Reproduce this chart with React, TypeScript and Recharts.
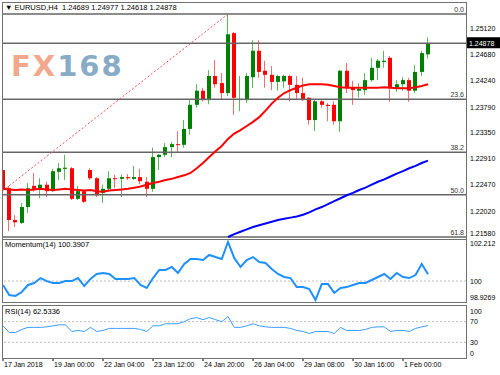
import React from 'react';
import { ComposedChart, Bar, Line, XAxis, YAxis, ReferenceLine } from 'recharts';

const FONT = "'Liberation Sans', Arial, sans-serif";

// EURUSD H4 candles, 17 Jan 16:00 .. 1 Feb 16:00
const opens = [
  1.2272, 1.2241, 1.2187, 1.2182, 1.2209, 1.2245, 1.2241, 1.2247, 1.2236, 1.2269,
  1.2274, 1.2275, 1.2223, 1.2236, 1.2272, 1.2258, 1.2233, 1.2240, 1.2258, 1.2257,
  1.2260, 1.2257, 1.2260, 1.2252, 1.2240, 1.2294, 1.2298, 1.2311, 1.2316, 1.2315,
  1.2342, 1.2383, 1.2407, 1.2391, 1.2432, 1.2420, 1.2403, 1.2505, 1.2391, 1.2391,
  1.2430, 1.2475, 1.2441, 1.2434, 1.2422, 1.2423, 1.2432, 1.2417, 1.2403, 1.2395,
  1.2357, 1.2389, 1.2383, 1.2383, 1.2355, 1.2441, 1.2412, 1.2407, 1.2408, 1.2425,
  1.2446, 1.2456, 1.2463, 1.2412, 1.2418, 1.2425, 1.2407, 1.2439, 1.24689,
];
const highs = [
  1.2292, 1.2245, 1.2195, 1.2216, 1.2250, 1.2267, 1.2258, 1.2252, 1.2274, 1.2284,
  1.2298, 1.2277, 1.2245, 1.2238, 1.2275, 1.2260, 1.2247, 1.2270, 1.2264, 1.2264,
  1.2265, 1.2279, 1.2274, 1.2260, 1.2310, 1.2299, 1.2318, 1.2320, 1.2338, 1.2357,
  1.2391, 1.2418, 1.2412, 1.2442, 1.2459, 1.2437, 1.2538, 1.2507, 1.2432, 1.2437,
  1.2493, 1.2493, 1.2458, 1.2449, 1.2434, 1.2434, 1.2434, 1.2432, 1.2429, 1.2396,
  1.2393, 1.2391, 1.2386, 1.2389, 1.2442, 1.2454, 1.2424, 1.2420, 1.2437, 1.2463,
  1.2461, 1.2475, 1.2466, 1.2425, 1.2430, 1.2429, 1.2451, 1.2475, 1.24977,
];
const lows = [
  1.2235, 1.2168, 1.2175, 1.2180, 1.2199, 1.2235, 1.2224, 1.2226, 1.2235, 1.2255,
  1.2255, 1.2221, 1.2221, 1.2216, 1.2255, 1.2226, 1.2216, 1.2238, 1.2241, 1.2226,
  1.2255, 1.2255, 1.2248, 1.2226, 1.2235, 1.2272, 1.2294, 1.2294, 1.2303, 1.2310,
  1.2332, 1.2378, 1.2389, 1.2384, 1.2412, 1.2393, 1.2398, 1.2366, 1.2372, 1.2386,
  1.2412, 1.2429, 1.2412, 1.2408, 1.2407, 1.2412, 1.2389, 1.2393, 1.2389, 1.2349,
  1.2338, 1.2378, 1.2355, 1.2349, 1.2337, 1.2403, 1.2383, 1.2395, 1.2400, 1.2422,
  1.2425, 1.2446, 1.2388, 1.2405, 1.2407, 1.2388, 1.2403, 1.2432, 1.24618,
];
const closes = [
  1.2241, 1.2187, 1.2183, 1.2209, 1.2241, 1.2240, 1.2247, 1.2236, 1.2270, 1.2275,
  1.2276, 1.2223, 1.2236, 1.2218, 1.2258, 1.2229, 1.2240, 1.2258, 1.2257, 1.2260,
  1.2258, 1.2260, 1.2253, 1.2240, 1.2294, 1.2298, 1.2311, 1.2316, 1.2315, 1.2342,
  1.2383, 1.2407, 1.2391, 1.2432, 1.2418, 1.2403, 1.2503, 1.2395, 1.2393, 1.2432,
  1.2475, 1.2439, 1.2434, 1.2422, 1.2432, 1.2432, 1.2417, 1.2403, 1.2391, 1.2357,
  1.2389, 1.2383, 1.2381, 1.2355, 1.2441, 1.2412, 1.2408, 1.2410, 1.2425, 1.2446,
  1.2458, 1.2458, 1.2412, 1.2418, 1.2425, 1.2407, 1.2439, 1.2471, 1.24878,
];

// red moving average
const fastMa = [
  1.2240, 1.2239, 1.2238, 1.2239, 1.2238, 1.2239, 1.2240, 1.2239, 1.2238, 1.2239,
  1.2240, 1.2239, 1.2238, 1.2237, 1.2238, 1.2236, 1.2235, 1.2237, 1.2238, 1.2239,
  1.2240, 1.2242, 1.2244, 1.2247, 1.2250, 1.2252, 1.2255, 1.2257, 1.2260, 1.2263,
  1.2267, 1.2275, 1.2284, 1.2294, 1.2304, 1.2313, 1.2325, 1.2334, 1.2340, 1.2347,
  1.2354, 1.2362, 1.2373, 1.2385, 1.2395, 1.2403, 1.2408, 1.2412, 1.2416, 1.2418,
  1.2418, 1.2418, 1.2417, 1.2415, 1.2413, 1.2412, 1.2412, 1.2412, 1.2412, 1.2412,
  1.2412, 1.2413, 1.2412, 1.2411, 1.2411, 1.2411, 1.2413, 1.2415, 1.2418,
];
// blue moving average, visible from bar 36 on
const SLOW_START = 36;
const slowMa = [
  1.2158, 1.2163, 1.2167, 1.2171, 1.2175, 1.2178, 1.2181, 1.2184, 1.2187, 1.2189,
  1.2191, 1.2193, 1.2196, 1.2200, 1.2205, 1.2209, 1.2214, 1.2219, 1.2224, 1.2229,
  1.2233, 1.2238, 1.2242, 1.2247, 1.2252, 1.2256, 1.2261, 1.2266, 1.2270, 1.2275,
  1.2279, 1.2284, 1.2288,
];

const momentum = [
  99.78, 99.21, 99.16, 99.38, 99.78, 99.89, 100.17, 100.0, 99.89, 99.89,
  100.0, 100.0, 100.17, 99.72, 100.12, 100.40, 100.46, 100.40, 100.12, 100.12,
  100.12, 100.17, 99.78, 99.61, 100.17, 100.63, 100.63, 100.80, 100.46, 100.97,
  101.25, 101.25, 101.19, 101.48, 101.36, 101.25, 102.212, 101.31, 100.80, 101.19,
  101.36, 101.08, 101.02, 100.68, 100.40, 100.23, 100.17, 99.66, 99.66, 99.55,
  98.9269, 99.83, 99.83, 99.33, 99.61, 99.66, 99.78, 99.89, 99.89, 100.06,
  100.23, 100.40, 100.12, 100.46, 100.23, 100.17, 100.34, 100.97, 100.3907,
];
const rsi = [
  62, 49, 49, 55, 59, 59, 59, 60, 62, 64,
  64, 51, 53, 51, 59, 51, 53, 57, 57, 57,
  57, 57, 55, 51, 62, 62, 66, 66, 66, 70,
  76, 78, 74, 78, 74, 70, 80, 59, 59, 62,
  66, 62, 60, 59, 59, 59, 57, 53, 51, 47,
  51, 51, 51, 47, 59, 53, 53, 53, 55, 59,
  60, 60, 51, 53, 53, 51, 57, 60, 62.5336,
];

const dateTicks = [0, 8, 16, 24, 32, 40, 48, 56, 64];
const dateLabels = ['17 Jan 2018', '19 Jan 00:00', '22 Jan 04:00', '23 Jan 12:00', '24 Jan 20:00',
  '26 Jan 04:00', '29 Jan 08:00', '30 Jan 16:00', '1 Feb 00:00'];
const priceTicks = [1.2158, 1.2202, 1.2247, 1.2291, 1.2335, 1.2379, 1.2424, 1.2468, 1.2512];
const fibPrices = [1.25375, 1.23923, 1.23022, 1.223, 1.2158];
const fibNames = ['0.0', '23.6', '38.2', '50.0', '61.8'];
const trendFrom = { x: 0, y: 1.2237 };
const trendTo = { x: 36, y: 1.25375 };
const momTicks = [98.9269, 100, 102.212];
const rsiTicks = [30, 70, 100];
const RSI_FLOOR = 0;

const X_MAX = 74.08;
const PRICE_DOMAIN = [1.21563, 1.25563];
const MOM_DOMAIN = [98.816, 102.325];
const RSI_DOMAIN = [-0.5, 100.5];
const last = closes.length - 1;

const rows = closes.map((c, i) => ({
  i,
  open: opens[i],
  high: highs[i],
  low: lows[i],
  close: c,
  fast: fastMa[i],
  slow: i >= SLOW_START ? slowMa[i - SLOW_START] : null,
  mom: momentum[i],
  rsi: rsi[i],
}));

function Candle(props: any) {
  const { x, y, width, height, payload } = props;
  if (x == null || !payload) return null;
  const top = Math.min(y, y + height);
  const h = Math.abs(height);
  const range = payload.high - payload.low;
  const k = range > 0 ? h / range : 0;
  const yOf = (p: number) => top + (payload.high - p) * k;
  const up = payload.close >= payload.open;
  const left = Math.round(x + width / 2 - 2);
  const bTop = yOf(Math.max(payload.open, payload.close));
  const bBot = yOf(Math.min(payload.open, payload.close));
  return (
    <g>
      <line x1={left + 1.5} x2={left + 1.5} y1={top} y2={top + h} stroke={up ? '#5cb85c' : '#ff6b6b'} strokeWidth={1} />
      <rect x={left} y={bTop} width={4} height={Math.max(1, bBot - bTop)} fill={up ? '#008000' : '#ff0000'} />
    </g>
  );
}

function PriceTag(props: any) {
  const { viewBox, text } = props;
  if (!viewBox) return null;
  const xx = viewBox.x + viewBox.width + 1;
  return (
    <g>
      <rect x={xx} y={viewBox.y - 6} width={33} height={11} fill="#000" />
      <text x={xx + 2} y={viewBox.y} dy="0.35em" fontSize={7} fill="#fff" fontFamily={FONT}>{text}</text>
    </g>
  );
}

// right-axis label, nudged inward when it sits at a panel edge
function EdgeTick(props: any) {
  const { x, y, payload, shifts, digits } = props;
  const v = payload.value;
  const shift = shifts && shifts[String(v)] ? shifts[String(v)] : 0;
  const txt = digits ? Number(v).toFixed(digits) : String(v);
  return (
    <text x={x} y={y + shift} dy="0.35em" fontSize={7} fill="#000" fontFamily={FONT}>{txt}</text>
  );
}

function DateTick(props: any) {
  const { x, y, payload } = props;
  const idx = dateTicks.indexOf(payload.value);
  return (
    <text x={x + 1} y={y + 3} dy="0.35em" fontSize={7} fill="#000" fontFamily={FONT}>{dateLabels[idx]}</text>
  );
}

const frame = (top: number, height: number): React.CSSProperties => ({
  position: 'absolute', left: 2, top, width: 465, height, border: '1px solid #707070',
  boxSizing: 'border-box', pointerEvents: 'none',
});

const small: React.CSSProperties = { position: 'absolute', fontFamily: FONT, fontSize: 7.5, lineHeight: '10px', color: '#000', whiteSpace: 'pre' };

export default function App() {
  return (
    <div style={{ position: 'absolute', left: 0, top: 0, width: 500, height: 375, background: '#fff', overflow: 'hidden' }}>
      <div style={{ position: 'absolute', left: 0, top: 0 }}>
        <ComposedChart width={500} height={240} data={rows} margin={{ top: 3, right: 0, bottom: 2, left: 3 }}>
          <XAxis type="number" dataKey="i" domain={[0, X_MAX]} hide allowDataOverflow />
          <YAxis orientation="right" width={34} domain={PRICE_DOMAIN} ticks={priceTicks} allowDataOverflow interval={0}
            tick={<EdgeTick digits={5} shifts={{ '1.2158': -3 }} />} tickLine={false} axisLine={false}
            tickSize={0} tickMargin={4} />
          {fibPrices.map((p, k) => (
            <ReferenceLine key={fibNames[k]} y={p} stroke="#666" strokeWidth={1.5}
              label={{ value: fibNames[k], position: 'insideBottomRight', offset: 2, fontSize: 7, fill: '#333', fontFamily: FONT }} />
          ))}
          <ReferenceLine y={closes[last]} stroke="#666" strokeWidth={1.5} label={<PriceTag text={closes[last].toFixed(5)} />} />
          <ReferenceLine segment={[trendFrom, trendTo]} stroke="#ff5050" strokeDasharray="2 2" strokeWidth={1} />
          <Line dataKey="slow" stroke="#0000ff" strokeWidth={2} dot={false} isAnimationActive={false} />
          <Bar dataKey={(r: any) => [r.low, r.high]} barSize={4} shape={(p: any) => <Candle {...p} />} isAnimationActive={false} />
          <Line dataKey="fast" stroke="#ff0000" strokeWidth={2} dot={false} isAnimationActive={false} />
        </ComposedChart>
      </div>
      <div style={{ position: 'absolute', left: 0, top: 234 }}>
        <ComposedChart width={500} height={70} data={rows} margin={{ top: 6, right: 0, bottom: 2, left: 3 }}>
          <XAxis type="number" dataKey="i" domain={[0, X_MAX]} hide allowDataOverflow />
          <YAxis orientation="right" width={34} domain={MOM_DOMAIN} ticks={momTicks} allowDataOverflow interval={0}
            tick={<EdgeTick shifts={{ '102.212': 2, '98.9269': -2 }} />} tickLine={false} axisLine={false} tickSize={0} tickMargin={4} />
          <ReferenceLine y={100} stroke="#bbb" strokeDasharray="2 2" />
          <Line dataKey="mom" stroke="#1e90ff" strokeWidth={2} dot={false} isAnimationActive={false} />
        </ComposedChart>
      </div>
      <div style={{ position: 'absolute', left: 0, top: 300 }}>
        <ComposedChart width={500} height={75} data={rows} margin={{ top: 6, right: 0, bottom: 1, left: 3 }}>
          <XAxis type="number" dataKey="i" domain={[0, X_MAX]} ticks={dateTicks} allowDataOverflow height={16} interval={0}
            tick={<DateTick />} tickSize={3} tickMargin={1} axisLine={false} tickLine={{ stroke: '#000' }} />
          <YAxis orientation="right" width={34} domain={RSI_DOMAIN} ticks={rsiTicks} interval={0} allowDataOverflow
            tick={<EdgeTick shifts={{ '100': 5 }} />} tickLine={false} axisLine={false} tickSize={0} tickMargin={4} />
          <ReferenceLine y={70} stroke="#bbb" strokeDasharray="2 2" />
          <ReferenceLine y={30} stroke="#bbb" strokeDasharray="2 2" />
          <Line dataKey="rsi" stroke="#3d9bff" strokeWidth={1} dot={false} isAnimationActive={false} />
        </ComposedChart>
      </div>
      <div style={frame(2, 238)} />
      <div style={frame(239, 64)} />
      <div style={frame(305, 54)} />
      <div style={{ ...small, left: 470, top: 349, fontSize: 7, zIndex: 5 }}>{String(RSI_FLOOR)}</div>
      <div style={{ ...small, left: 5, top: 3 }}>
        {`▼ EURUSD,H4  ${opens[last].toFixed(5)} ${highs[last].toFixed(5)} ${lows[last].toFixed(5)} ${closes[last].toFixed(5)}`}
      </div>
      <div style={{ position: 'absolute', left: 11, top: 52, fontFamily: "'DejaVu Sans', sans-serif", fontWeight: 'bold', fontSize: 29, lineHeight: '29px', letterSpacing: 2, whiteSpace: 'pre' }}>
        <span style={{ color: '#f2a88c' }}>FX</span><span style={{ color: '#88abc6' }}>168</span>
      </div>
      <div style={{ ...small, left: 5, top: 240 }}>{`Momentum(14) ${momentum[last]}`}</div>
      <div style={{ ...small, left: 5, top: 307 }}>{`RSI(14) ${rsi[last]}`}</div>
    </div>
  );
}
